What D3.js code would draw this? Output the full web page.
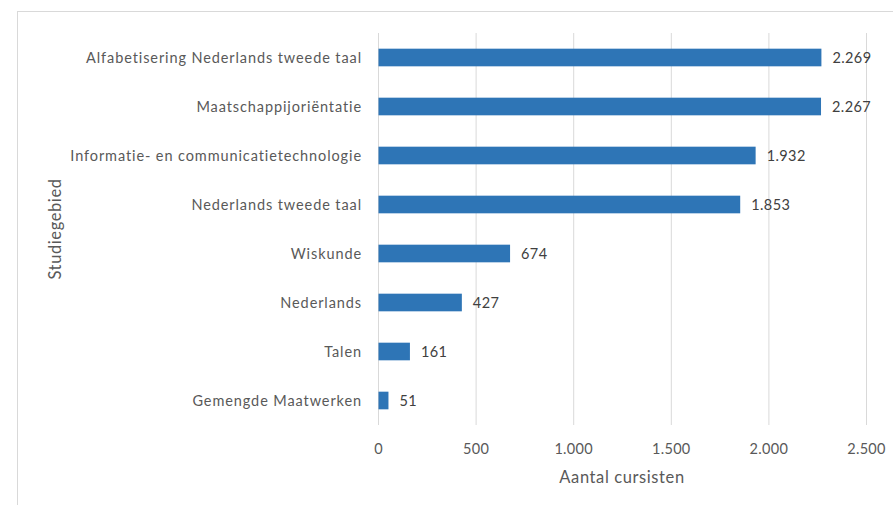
<!DOCTYPE html>
<html><head><meta charset="utf-8">
<script src="https://cdn.jsdelivr.net/npm/d3@7"></script>
<style>body{margin:0;background:#fff;}svg{display:block;font-family:Lato, "Open Sans", sans-serif;}</style>
</head><body>
<svg id="c" width="893" height="505"></svg>
<script>
const categories = ["Alfabetisering Nederlands tweede taal","Maatschappijoriëntatie","Informatie- en communicatietechnologie","Nederlands tweede taal","Wiskunde","Nederlands","Talen","Gemengde Maatwerken"];
const values = [2269,2267,1932,1853,674,427,161,51];
const xTicks = [0,500,1000,1500,2000,2500];
const xTitle = "Aantal cursisten";
const yTitle = "Studiegebied";

const svg = d3.select("#c");
const fmt = d => d3.format(",")(d).replace(/,/g,".");
svg.append("rect").attr("x",17.5).attr("y",11.5).attr("width",900).attr("height",520).attr("fill","#fff").attr("stroke","#d9d9d9");

const x = d3.scaleLinear().domain([0,2500]).range([378.5,866.5]);
const y = d3.scaleBand().domain(categories).range([33,425]).paddingInner(0.64).paddingOuter(0.32);
const txt = "#595959";

svg.append("g").selectAll("line").data(xTicks).join("line")
  .attr("x1",d=>x(d)).attr("x2",d=>x(d)).attr("y1",33).attr("y2",425)
  .attr("stroke","#d9d9d9").attr("stroke-width",1);

svg.append("g").selectAll("rect").data(values).join("rect")
  .attr("x",x(0)).attr("y",(d,i)=>y(categories[i])).attr("width",d=>x(d)-x(0)).attr("height",y.bandwidth())
  .attr("fill","#2e75b6");

svg.append("g").selectAll("text").data(values).join("text")
  .attr("x",d=>x(d)+11).attr("y",(d,i)=>y(categories[i])+y.bandwidth()/2).attr("dy","0.36em")
  .attr("font-size",14.5).attr("letter-spacing",0.4).attr("fill","#404040").text(d=>fmt(d));

svg.append("g").selectAll("text").data(categories).join("text")
  .attr("x",362).attr("y",d=>y(d)+y.bandwidth()/2).attr("dy","0.36em").attr("text-anchor","end")
  .attr("font-size",14.5).attr("letter-spacing",0.9).attr("fill",txt).text(d=>d);

svg.append("g").selectAll("text").data(xTicks).join("text")
  .attr("x",d=>x(d)).attr("y",449).attr("dy","0.36em").attr("text-anchor","middle")
  .attr("font-size",14.5).attr("letter-spacing",0.3).attr("fill",txt).text(d=>fmt(d));

svg.append("text").attr("x",622).attr("y",477).attr("dy","0.36em").attr("text-anchor","middle")
  .attr("font-size",16.5).attr("letter-spacing",0.6).attr("fill",txt).text(xTitle);
svg.append("text").attr("transform","translate(55,229) rotate(-90)").attr("dy","0.36em").attr("text-anchor","middle")
  .attr("font-size",16.5).attr("letter-spacing",0.6).attr("fill",txt).text(yTitle);
</script>
</body></html>
